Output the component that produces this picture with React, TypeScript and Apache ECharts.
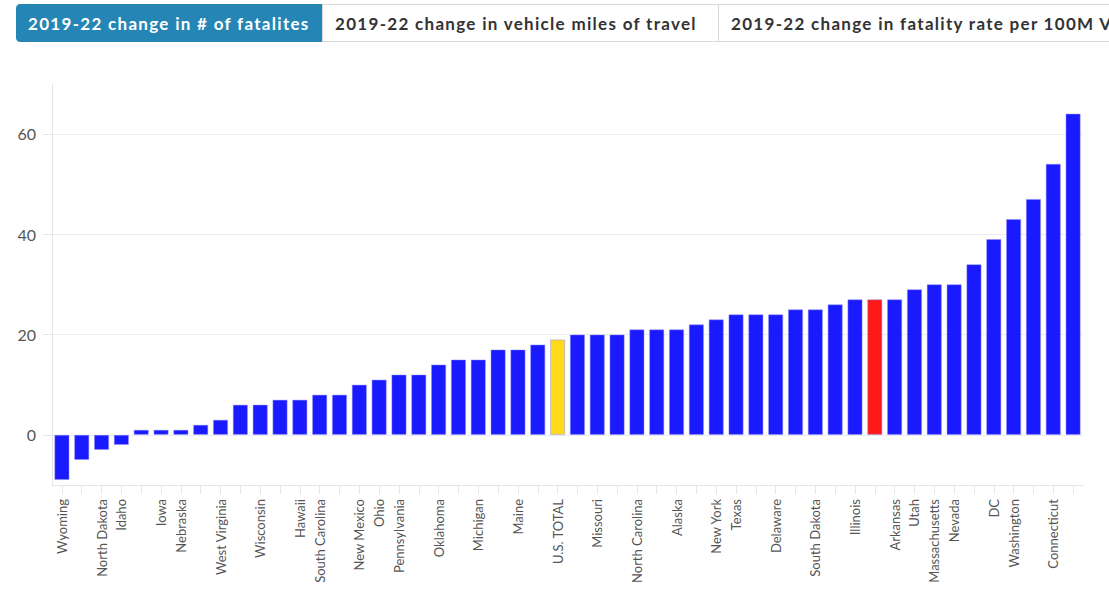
import React, { useEffect, useRef } from "react";
import * as echarts from "echarts";

const tabLabels = [
  "2019-22 change in # of fatalites",
  "2019-22 change in vehicle miles of travel",
  "2019-22 change in fatality rate per 100M VMT",
];

const categories = [
  "Wyoming", "", "North Dakota", "Idaho", "", "Iowa", "Nebraska", "", "West Virginia", "",
  "Wisconsin", "", "Hawaii", "South Carolina", "", "New Mexico", "Ohio", "Pennsylvania", "", "Oklahoma",
  "", "Michigan", "", "Maine", "", "U.S. TOTAL", "", "Missouri", "", "North Carolina",
  "", "Alaska", "", "New York", "Texas", "", "Delaware", "", "South Dakota", "",
  "Illinois", "", "Arkansas", "Utah", "Massachusetts", "Nevada", "", "DC", "Washington", "",
  "Connecticut", "",
];

const values = [
  -9, -5, -3, -2, 1, 1, 1, 2, 3, 6,
  6, 7, 7, 8, 8, 10, 11, 12, 12, 14,
  15, 15, 17, 17, 18, 19, 20, 20, 20, 21,
  21, 21, 22, 23, 24, 24, 24, 25, 25, 26,
  27, 27, 27, 29, 30, 30, 34, 39, 43, 47,
  54, 64,
];

const yTicks = [0, 20, 40, 60];
const totalIndex = 25;
const highlightIndex = 41;

const BLUE = "#1a1aff";
const YELLOW = "#ffd91a";
const RED = "#ff1a1a";
const FONT = "Lato, 'Noto Sans', sans-serif";

export default function App() {
  const ref = useRef<HTMLDivElement>(null);

  useEffect(() => {
    if (!ref.current) return;
    const chart = echarts.init(ref.current, null, { renderer: "svg" });
    const data = values.map((v, i) => ({
      value: v,
      itemStyle: {
        color: i === totalIndex ? YELLOW : i === highlightIndex ? RED : BLUE,
      },
    }));
    chart.setOption({
      animation: false,
      textStyle: { fontFamily: FONT },
      grid: { left: 52, right: 26, top: 83.6, bottom: 105, containLabel: false },
      xAxis: {
        type: "category",
        data: categories,
        boundaryGap: true,
        axisLine: { show: true, onZero: false, lineStyle: { color: "#e6e6e6", width: 1 } },
        axisTick: { show: true, alignWithLabel: true, interval: 0, length: 9, lineStyle: { color: "#e6e6e6" } },
        axisLabel: {
          interval: 0,
          rotate: 90,
          margin: 14,
          fontSize: 13,
          color: "#555",
          fontFamily: FONT,
        },
        splitLine: { show: false },
      },
      yAxis: {
        type: "value",
        min: -10,
        max: 70,
        interval: 10,
        axisLine: { show: true, lineStyle: { color: "#e6e6e6" } },
        axisTick: { show: true, length: 9, customValues: yTicks, lineStyle: { color: "#e6e6e6" } },
        axisLabel: {
          customValues: yTicks,
          margin: 16,
          fontSize: 16,
          color: "#555",
          fontFamily: FONT,
        },
        splitLine: { show: true, lineStyle: { color: "#ebebeb", width: 1 } },
      },
      series: [
        {
          type: "bar",
          data,
          barWidth: 15,
          itemStyle: { borderColor: "rgba(140,140,255,0.6)", borderWidth: 0.8 },
        },
      ],
    });
    return () => chart.dispose();
  }, []);

  const tabBase: React.CSSProperties = {
    position: "absolute",
    top: 4,
    height: 38,
    boxSizing: "border-box",
    border: "1px solid #d9d9d9",
    display: "flex",
    alignItems: "center",
    paddingLeft: 12,
    fontFamily: FONT,
    fontWeight: 700,
    fontSize: 17,
    letterSpacing: 1.3,
    color: "#333",
    background: "#fff",
    whiteSpace: "nowrap",
    overflow: "hidden",
  };

  return (
    <div style={{ position: "fixed", left: 0, top: 0, width: 1109, height: 590, overflow: "hidden", background: "#fff" }}>
      <div
        style={{
          ...tabBase,
          left: 16,
          width: 307,
          background: "#2585b4",
          border: "1px solid #2585b4",
          color: "#fff",
          borderRadius: "4px 0 0 4px",
          paddingLeft: 11,
        }}
      >
        {tabLabels[0]}
      </div>
      <div style={{ ...tabBase, left: 322, width: 397 }}>{tabLabels[1]}</div>
      <div style={{ ...tabBase, left: 718, width: 460 }}>{tabLabels[2]}</div>
      <div ref={ref} style={{ position: "absolute", left: 0, top: 0, width: 1109, height: 590 }} />
    </div>
  );
}
